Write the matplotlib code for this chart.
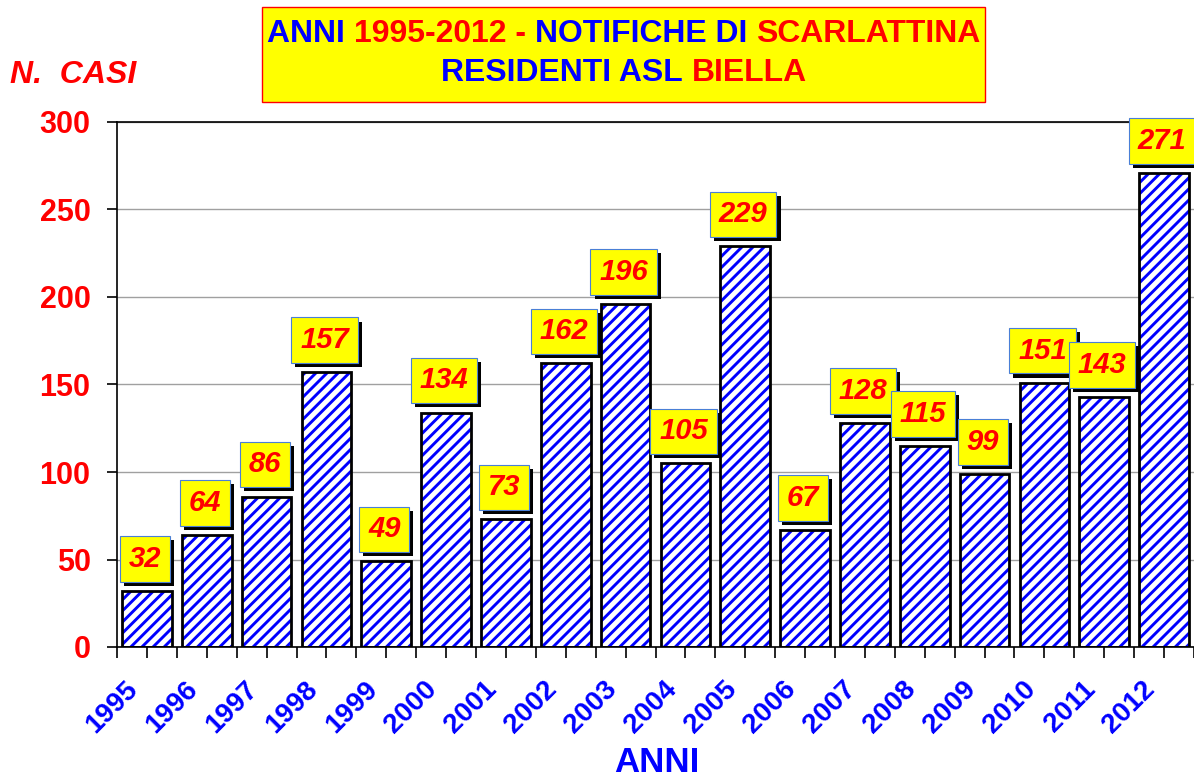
import numpy as np
import matplotlib
matplotlib.use('Agg')
import matplotlib.pyplot as plt
from matplotlib import patheffects as pe
from matplotlib import font_manager
from matplotlib import transforms
from matplotlib.patches import Rectangle

anni = ['1995', '1996', '1997', '1998', '1999', '2000', '2001', '2002', '2003',
        '2004', '2005', '2006', '2007', '2008', '2009', '2010', '2011', '2012']
casi = [32, 64, 86, 157, 49, 134, 73, 162, 196, 105, 229, 67, 128, 115, 99, 151, 143, 271]

titolo_1 = [('ANNI ', 'blue'), ('1995-2012 - ', 'red'), ('NOTIFICHE DI ', 'blue'), ('SCARLATTINA', 'red')]
titolo_2 = [('RESIDENTI ASL ', 'blue'), ('BIELLA', 'red')]

installed = {f.name for f in font_manager.fontManager.ttflist}
base_font = 'Liberation Sans' if 'Liberation Sans' in installed else 'DejaVu Sans'
narrow_font = 'Liberation Sans Narrow' if 'Liberation Sans Narrow' in installed else base_font
plt.rcParams['font.family'] = base_font
plt.rcParams['hatch.linewidth'] = 2.1

W, H = 1194, 774
fig = plt.figure(figsize=(W / 100, H / 100), dpi=100)
ax = fig.add_axes([117 / W, 1 - 647 / H, 1 - 117 / W, (647 - 122) / H])

x = np.arange(len(anni))
# hatched fill, then black outline on top
ax.bar(x, casi, width=0.83, color='white', edgecolor='#0000ff', hatch='///', linewidth=0, zorder=2)
ax.bar(x, casi, width=0.83, fill=False, edgecolor='black', linewidth=2, zorder=3)

ax.set_xlim(-0.5, len(anni) - 0.5)
ax.set_ylim(0, 300)
ax.set_yticks(range(0, 301, 50))
ax.yaxis.grid(True, color='#a0a0a0', linewidth=1)
ax.set_axisbelow(True)

ax.set_xticks(x)
ax.set_xticklabels(anni, rotation=45, ha='right', rotation_mode='anchor',
                   color='blue', fontweight='bold', fontsize=20)
ax.set_xticks(np.arange(-0.5, len(anni), 1), minor=True)
ax.tick_params(axis='x', which='both', direction='out', length=8, width=1.2, pad=10)
ax.tick_params(axis='y', direction='out', length=7, width=1.2, labelcolor='red',
               labelsize=22, pad=12)
for lbl in ax.get_yticklabels():
    lbl.set_fontweight('bold')
sposta = transforms.ScaledTranslation(-22 / 100, -4 / 100, fig.dpi_scale_trans)
for lbl in ax.get_xticklabels():
    lbl.set_transform(lbl.get_transform() + sposta)

ax.spines['right'].set_visible(False)
for s in ['left', 'top', 'bottom']:
    ax.spines[s].set_linewidth(1.2)

# value labels in yellow boxes with shadow
for xi, v in zip(x, casi):
    t = ax.annotate(str(v), xy=(xi, v), xytext=(-2, 32), textcoords='offset pixels',
                    ha='center', va='center', color='red', fontsize=21,
                    fontweight='bold', fontstyle='italic', zorder=5,
                    bbox=dict(boxstyle='square,pad=0.3', fc='yellow', ec='#4a7fd6', lw=0.8))
    t.get_bbox_patch().set_path_effects(
        [pe.withSimplePatchShadow(offset=(3, -3), shadow_rgbFace='black', alpha=1)])

fig.text(10 / W, 1 - 75 / H, 'N.  CASI', color='red', fontsize=23,
         fontweight='bold', fontstyle='italic', va='center', ha='left')
fig.text(657 / W, 1 - 762 / H, 'ANNI', color='blue', fontsize=25,
         fontweight='bold', va='center', ha='center')

# title box
fig.add_artist(Rectangle((262 / W, 1 - 102 / H), (985 - 262) / W, 95 / H,
                         transform=fig.transFigure, facecolor='yellow',
                         edgecolor='red', linewidth=1))


def larg(s, size):
    renderer = fig.canvas.get_renderer()
    t = fig.text(0, 0, s, fontsize=size, fontweight='bold', family=narrow_font)
    w = t.get_window_extent(renderer).width
    t.remove()
    return w


def riga(pezzi, yc, size, xc=624):
    totale = larg(''.join(p for p, _ in pezzi), size)
    bar_w = larg('|', size)
    x0 = xc - totale / 2
    pref = ''
    for p, c in pezzi:
        off = larg(pref + '|', size) - bar_w if pref else 0
        fig.text((x0 + off) / W, 1 - yc / H, p, color=c, fontsize=size,
                 fontweight='bold', family=narrow_font, va='center', ha='left')
        pref += p


# first line spans about 713 px in the reference
size_t = 24 * 713 / larg(''.join(p for p, _ in titolo_1), 24)
riga(titolo_1, 34, size_t)
riga(titolo_2, 73, size_t)

fig.savefig('out.png', dpi=100)
